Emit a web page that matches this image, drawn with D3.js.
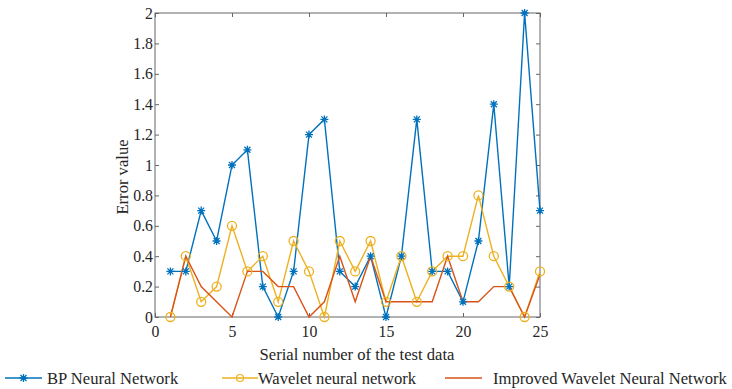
<!DOCTYPE html>
<html><head><meta charset="utf-8">
<script src="https://cdn.jsdelivr.net/npm/d3@7"></script>
<style>body{margin:0;background:#fff}svg{display:block}</style>
</head><body><svg id="c" width="732" height="389"></svg>
<script>
const serial = d3.range(1, 26);
const bpValues = [0.3,0.3,0.7,0.5,1.0,1.1,0.2,0.0,0.3,1.2,1.3,0.3,0.2,0.4,0.0,0.4,1.3,0.3,0.3,0.1,0.5,1.4,0.2,2.0,0.7];
const waveletValues = [0,0.4,0.1,0.2,0.6,0.3,0.4,0.1,0.5,0.3,0,0.5,0.3,0.5,0.1,0.4,0.1,0.3,0.4,0.4,0.8,0.4,0.2,0,0.3];
const improvedValues = [0,0.4,0.2,0.1,0,0.3,0.3,0.2,0.2,0,0.1,0.4,0.1,0.4,0.1,0.1,0.1,0.1,0.4,0.1,0.1,0.2,0.2,0,0.28];
const xTicks = [0,5,10,15,20,25];
const yTicks = [0,0.2,0.4,0.6,0.8,1,1.2,1.4,1.6,1.8,2];
const seriesNames = ["BP Neural Network","Wavelet neural network","Improved Wavelet Neural Network"];
const colors = ["#0072BD","#EDB120","#D95319"];
const FONT = "'Liberation Serif'";
const TXT = "#262626";
const LBL = "16.6px";

const svg = d3.select("#c");
const L=155, R=540, T=13, B=317;
const x = d3.scaleLinear().domain([0,25]).range([L,R]);
const y = d3.scaleLinear().domain([0,2]).range([B,T]);
const axisColor = "#666";

svg.append("rect").attr("x",L).attr("y",T).attr("width",R-L).attr("height",B-T)
  .attr("fill","none").attr("stroke",axisColor).attr("stroke-width",1);

const fmt = d => d3.format("~g")(d);
const gx = svg.append("g").attr("transform",`translate(0,${B})`)
  .call(d3.axisBottom(x).tickValues(xTicks).tickSize(-4).tickPadding(9).tickFormat(fmt));
const gxt = svg.append("g").attr("transform",`translate(0,${T})`)
  .call(d3.axisTop(x).tickValues(xTicks).tickSize(-4).tickFormat(""));
const gy = svg.append("g").attr("transform",`translate(${L},0)`)
  .call(d3.axisLeft(y).tickValues(yTicks).tickSize(-4).tickPadding(2).tickFormat(fmt));
const gyr = svg.append("g").attr("transform",`translate(${R},0)`)
  .call(d3.axisRight(y).tickValues(yTicks).tickSize(-4).tickFormat(""));
[gx,gxt,gy,gyr].forEach(g=>{
  g.select(".domain").remove();
  g.selectAll(".tick line").attr("stroke",axisColor);
  g.selectAll("text").style("font-family",FONT).style("font-size","15.8px").style("fill",TXT);
});

svg.append("text").attr("x",357).attr("y",360).attr("text-anchor","middle")
  .style("font-family",FONT).style("font-size",LBL).style("fill",TXT).text("Serial number of the test data");
svg.append("text").attr("transform",`translate(127.5,177) rotate(-90)`).attr("text-anchor","middle")
  .style("font-family",FONT).style("font-size",LBL).style("fill",TXT).text("Error value");

const line = d3.line().x((d,i)=>x(serial[i])).y(d=>y(d));
[bpValues, waveletValues, improvedValues].forEach((vals,k)=>{
  svg.append("path").datum(vals).attr("d",line).attr("fill","none")
    .attr("stroke",colors[k]).attr("stroke-width",1.4);
});

function star(g, cx, cy, col){
  const r=4, r2=3;
  const p = `M${cx-r},${cy}L${cx+r},${cy}M${cx},${cy-r}L${cx},${cy+r}M${cx-r2},${cy-r2}L${cx+r2},${cy+r2}M${cx-r2},${cy+r2}L${cx+r2},${cy-r2}`;
  g.append("path").attr("d",p).attr("stroke",col).attr("stroke-width",1.3).attr("fill","none");
}
const gm = svg.append("g");
bpValues.forEach((v,i)=>star(gm, x(serial[i]), y(v), colors[0]));
waveletValues.forEach((v,i)=>{
  gm.append("circle").attr("cx",x(serial[i])).attr("cy",y(v)).attr("r",4.5)
    .attr("fill","none").attr("stroke",colors[1]).attr("stroke-width",1.3);
});

const ly = 378;
const legendItems = [
  {x1:5, x2:42, tx:47},
  {x1:222, x2:258, tx:258},
  {x1:445, x2:482, tx:493}
];
legendItems.forEach((it,k)=>{
  svg.append("line").attr("x1",it.x1).attr("x2",it.x2).attr("y1",ly).attr("y2",ly)
    .attr("stroke",colors[k]).attr("stroke-width",1.4);
  const mx=(it.x1+it.x2)/2;
  if(k===0) star(svg, mx, ly, colors[0]);
  if(k===1) svg.append("circle").attr("cx",mx).attr("cy",ly).attr("r",3.5).attr("fill","none").attr("stroke",colors[1]).attr("stroke-width",1.2);
  svg.append("text").attr("x",it.tx).attr("y",ly+6).style("font-family",FONT).style("font-size",LBL).style("fill",TXT).text(seriesNames[k]);
});
</script></body></html>
